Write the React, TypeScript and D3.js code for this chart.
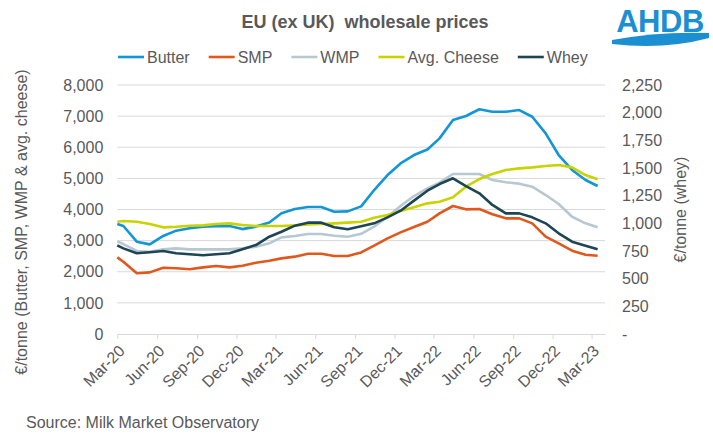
import React, { useEffect, useRef } from 'react';
import * as d3 from 'd3';

// Observation dates (first point at the start of the axis, then mid-month values)
const periods = [
  '2020-03-01', '2020-03-15', '2020-04-15', '2020-05-15', '2020-06-15', '2020-07-15', '2020-08-15',
  '2020-09-15', '2020-10-15', '2020-11-15', '2020-12-15', '2021-01-15', '2021-02-15', '2021-03-15',
  '2021-04-15', '2021-05-15', '2021-06-15', '2021-07-15', '2021-08-15', '2021-09-15', '2021-10-15',
  '2021-11-15', '2021-12-15', '2022-01-15', '2022-02-15', '2022-03-15', '2022-04-15', '2022-05-15',
  '2022-06-15', '2022-07-15', '2022-08-15', '2022-09-15', '2022-10-15', '2022-11-15', '2022-12-15',
  '2023-01-15', '2023-02-15', '2023-03-15',
];

// €/tonne, left axis
const butter = [
  3533, 3470, 2965, 2880, 3150, 3320, 3395, 3450, 3460, 3470, 3370, 3450, 3580, 3880, 4015, 4080,
  4080, 3930, 3940, 4100, 4625, 5108, 5480, 5750, 5930, 6285, 6875, 7003, 7220, 7140, 7140, 7195,
  6980, 6447, 5750, 5270, 4947, 4755,
];
const smp = [
  2463, 2323, 1950, 1980, 2130, 2110, 2080, 2140, 2185, 2140, 2195, 2290, 2355, 2430, 2485, 2580,
  2580, 2505, 2505, 2620, 2837, 3073, 3265, 3437, 3608, 3877, 4112, 4005, 4015, 3845, 3716, 3716,
  3555, 3126, 2913, 2676, 2547, 2515,
];
const wmp = [
  2978, 2890, 2666, 2644, 2720, 2752, 2720, 2720, 2720, 2720, 2752, 2806, 2913, 3105, 3148, 3212,
  3212, 3158, 3126, 3220, 3447, 3768, 4112, 4433, 4680, 4862, 5140, 5140, 5140, 4947, 4873, 4830,
  4733, 4465, 4176, 3768, 3556, 3427,
];
const cheese = [
  3608, 3630, 3608, 3534, 3427, 3448, 3480, 3490, 3534, 3555, 3501, 3470, 3470, 3470, 3490, 3523,
  3534, 3555, 3577, 3608, 3736, 3823, 3951, 4069, 4198, 4251, 4390, 4733, 4979, 5140, 5268, 5322,
  5354, 5397, 5429, 5354, 5108, 4969,
];
// €/tonne, right axis
const whey = [
  801, 774, 729, 738, 750, 729, 720, 711, 720, 729, 765, 804, 879, 924, 979, 1006,
  1006, 964, 946, 973, 1000, 1054, 1114, 1205, 1295, 1355, 1407, 1337, 1271, 1166, 1090, 1090,
  1054, 1000, 910, 834, 798, 765,
];

const seriesNames = ['Butter', 'SMP', 'WMP', 'Avg. Cheese', 'Whey'];
const seriesColors = ['#1296D6', '#E1581D', '#B7C8D2', '#C9D300', '#1E4553'];

const xTickLabels = [
  'Mar-20', 'Jun-20', 'Sep-20', 'Dec-20', 'Mar-21', 'Jun-21', 'Sep-21',
  'Dec-21', 'Mar-22', 'Jun-22', 'Sep-22', 'Dec-22', 'Mar-23',
];
const leftTicks = [0, 1000, 2000, 3000, 4000, 5000, 6000, 7000, 8000];
const rightTicks = [0, 250, 500, 750, 1000, 1250, 1500, 1750, 2000, 2250];

const FONT = '"Liberation Sans", Arial, sans-serif';
const TEXT = '#595959';
const GRID = '#D9D9D9';

const App: React.FC = () => {
  const svgRef = useRef<SVGSVGElement | null>(null);

  useEffect(() => {
    const svg = d3.select(svgRef.current);
    svg.selectAll('*').remove();

    const W = 713;
    const H = 438;
    const plot = { left: 117.3, right: 605, top: 85, bottom: 334 };

    svg.attr('width', W).attr('height', H).style('font-family', FONT);
    svg.append('rect').attr('width', W).attr('height', H).attr('fill', '#fff');

    const parseDay = d3.timeParse('%Y-%m-%d');
    const parseTick = d3.timeParse('%b-%y');
    const dates = periods.map(p => parseDay(p) as Date);

    const x = d3
      .scaleTime()
      .domain([new Date(2020, 2, 1), new Date(2023, 3, 1)])
      .range([plot.left, plot.right]);
    const yLeft = d3.scaleLinear().domain([0, 8000]).range([plot.bottom, plot.top]);
    const yRight = d3.scaleLinear().domain([0, 2250]).range([plot.bottom, plot.top]);

    // gridlines
    svg
      .append('g')
      .selectAll('line')
      .data(leftTicks.filter(t => t > 0))
      .join('line')
      .attr('x1', plot.left)
      .attr('x2', plot.right)
      .attr('y1', d => yLeft(d))
      .attr('y2', d => yLeft(d))
      .attr('stroke', GRID)
      .attr('stroke-width', 1);

    // x axis
    const tickDates = xTickLabels.map(l => parseTick(l) as Date);
    const xAxis = svg
      .append('g')
      .attr('transform', `translate(0,${plot.bottom})`)
      .call(
        d3
          .axisBottom(x)
          .tickValues(tickDates)
          .tickSize(5)
          .tickSizeOuter(0)
          .tickFormat((_, i) => xTickLabels[i])
      );
    xAxis.select('.domain').attr('stroke', GRID);
    xAxis.selectAll('.tick line').attr('stroke', GRID);
    xAxis
      .selectAll<SVGTextElement, Date>('.tick text')
      .attr('x', 0)
      .attr('y', 0)
      .attr('dy', 0)
      .attr('transform', 'translate(8,18) rotate(-45)')
      .style('text-anchor', 'end')
      .style('font-size', '16px')
      .style('font-family', FONT)
      .attr('fill', TEXT);

    // left axis labels
    const leftAxis = svg
      .append('g')
      .attr('transform', `translate(${plot.left},0)`)
      .call(d3.axisLeft(yLeft).tickValues(leftTicks).tickSize(0).tickPadding(14).tickFormat(d3.format(',')));
    leftAxis.select('.domain').remove();
    leftAxis.selectAll('text').style('font-size', '16px').style('font-family', FONT).attr('fill', TEXT);

    // right axis labels
    const rightAxis = svg
      .append('g')
      .attr('transform', `translate(${plot.right},0)`)
      .call(
        d3
          .axisRight(yRight)
          .tickValues(rightTicks)
          .tickSize(0)
          .tickPadding(17)
          .tickFormat(d => (+d === 0 ? '-' : d3.format(',')(+d)))
      );
    rightAxis.select('.domain').remove();
    rightAxis.selectAll('text').style('font-size', '16px').style('font-family', FONT).attr('fill', TEXT);

    // axis titles
    svg
      .append('text')
      .attr('transform', 'translate(27,222) rotate(-90)')
      .attr('text-anchor', 'middle')
      .attr('font-size', 16)
      .attr('fill', TEXT)
      .text('€/tonne (Butter, SMP, WMP & avg. cheese)');
    svg
      .append('text')
      .attr('transform', `translate(686,${(plot.top + plot.bottom) / 2}) rotate(-90)`)
      .attr('text-anchor', 'middle')
      .attr('font-size', 16)
      .attr('fill', TEXT)
      .text('€/tonne (whey)');

    // lines
    const allSeries = [butter, smp, wmp, cheese, whey];
    allSeries.forEach((values, i) => {
      const yScale = i === 4 ? yRight : yLeft;
      const line = d3
        .line<number>()
        .x((_, j) => x(dates[j]))
        .y(d => yScale(d));
      svg
        .append('path')
        .datum(values)
        .attr('fill', 'none')
        .attr('stroke', seriesColors[i])
        .attr('stroke-width', 2.6)
        .attr('stroke-linejoin', 'round')
        .attr('d', line);
    });

    // title
    svg
      .append('text')
      .attr('x', 365)
      .attr('y', 28)
      .attr('text-anchor', 'middle')
      .attr('font-size', 18)
      .attr('font-weight', 'bold')
      .attr('fill', TEXT)
      .attr('xml:space', 'preserve')
      .style('white-space', 'pre')
      .text('EU (ex UK)  wholesale prices');

    // legend
    const legend = svg.append('g');
    let lx = 118;
    seriesNames.forEach((name, i) => {
      legend
        .append('line')
        .attr('x1', lx)
        .attr('x2', lx + 26)
        .attr('y1', 57)
        .attr('y2', 57)
        .attr('stroke', seriesColors[i])
        .attr('stroke-width', 2.6);
      const t = legend
        .append('text')
        .attr('x', lx + 29)
        .attr('y', 63)
        .attr('font-size', 16)
        .attr('fill', TEXT)
        .text(name);
      const w = (t.node() as SVGTextElement).getComputedTextLength();
      lx += 29 + w + 19;
    });

    // logo
    svg
      .append('text')
      .attr('x', 660)
      .attr('y', 32)
      .attr('text-anchor', 'middle')
      .attr('font-size', 31)
      .attr('font-weight', 'bold')
      .attr('fill', '#1C8FD2')
      .attr('letter-spacing', -0.5)
      .text('AHDB');
    svg
      .append('path')
      .attr('d', 'M612,40 Q660,31 709,33 L709,38 Q664,50 612,44 Z')
      .attr('fill', '#1C8FD2');

    // source note
    svg
      .append('text')
      .attr('x', 26)
      .attr('y', 428)
      .attr('font-size', 16)
      .attr('fill', TEXT)
      .text('Source: Milk Market Observatory');
  }, []);

  return <svg ref={svgRef} style={{ position: 'absolute', left: 0, top: 0 }} />;
};

export default App;
